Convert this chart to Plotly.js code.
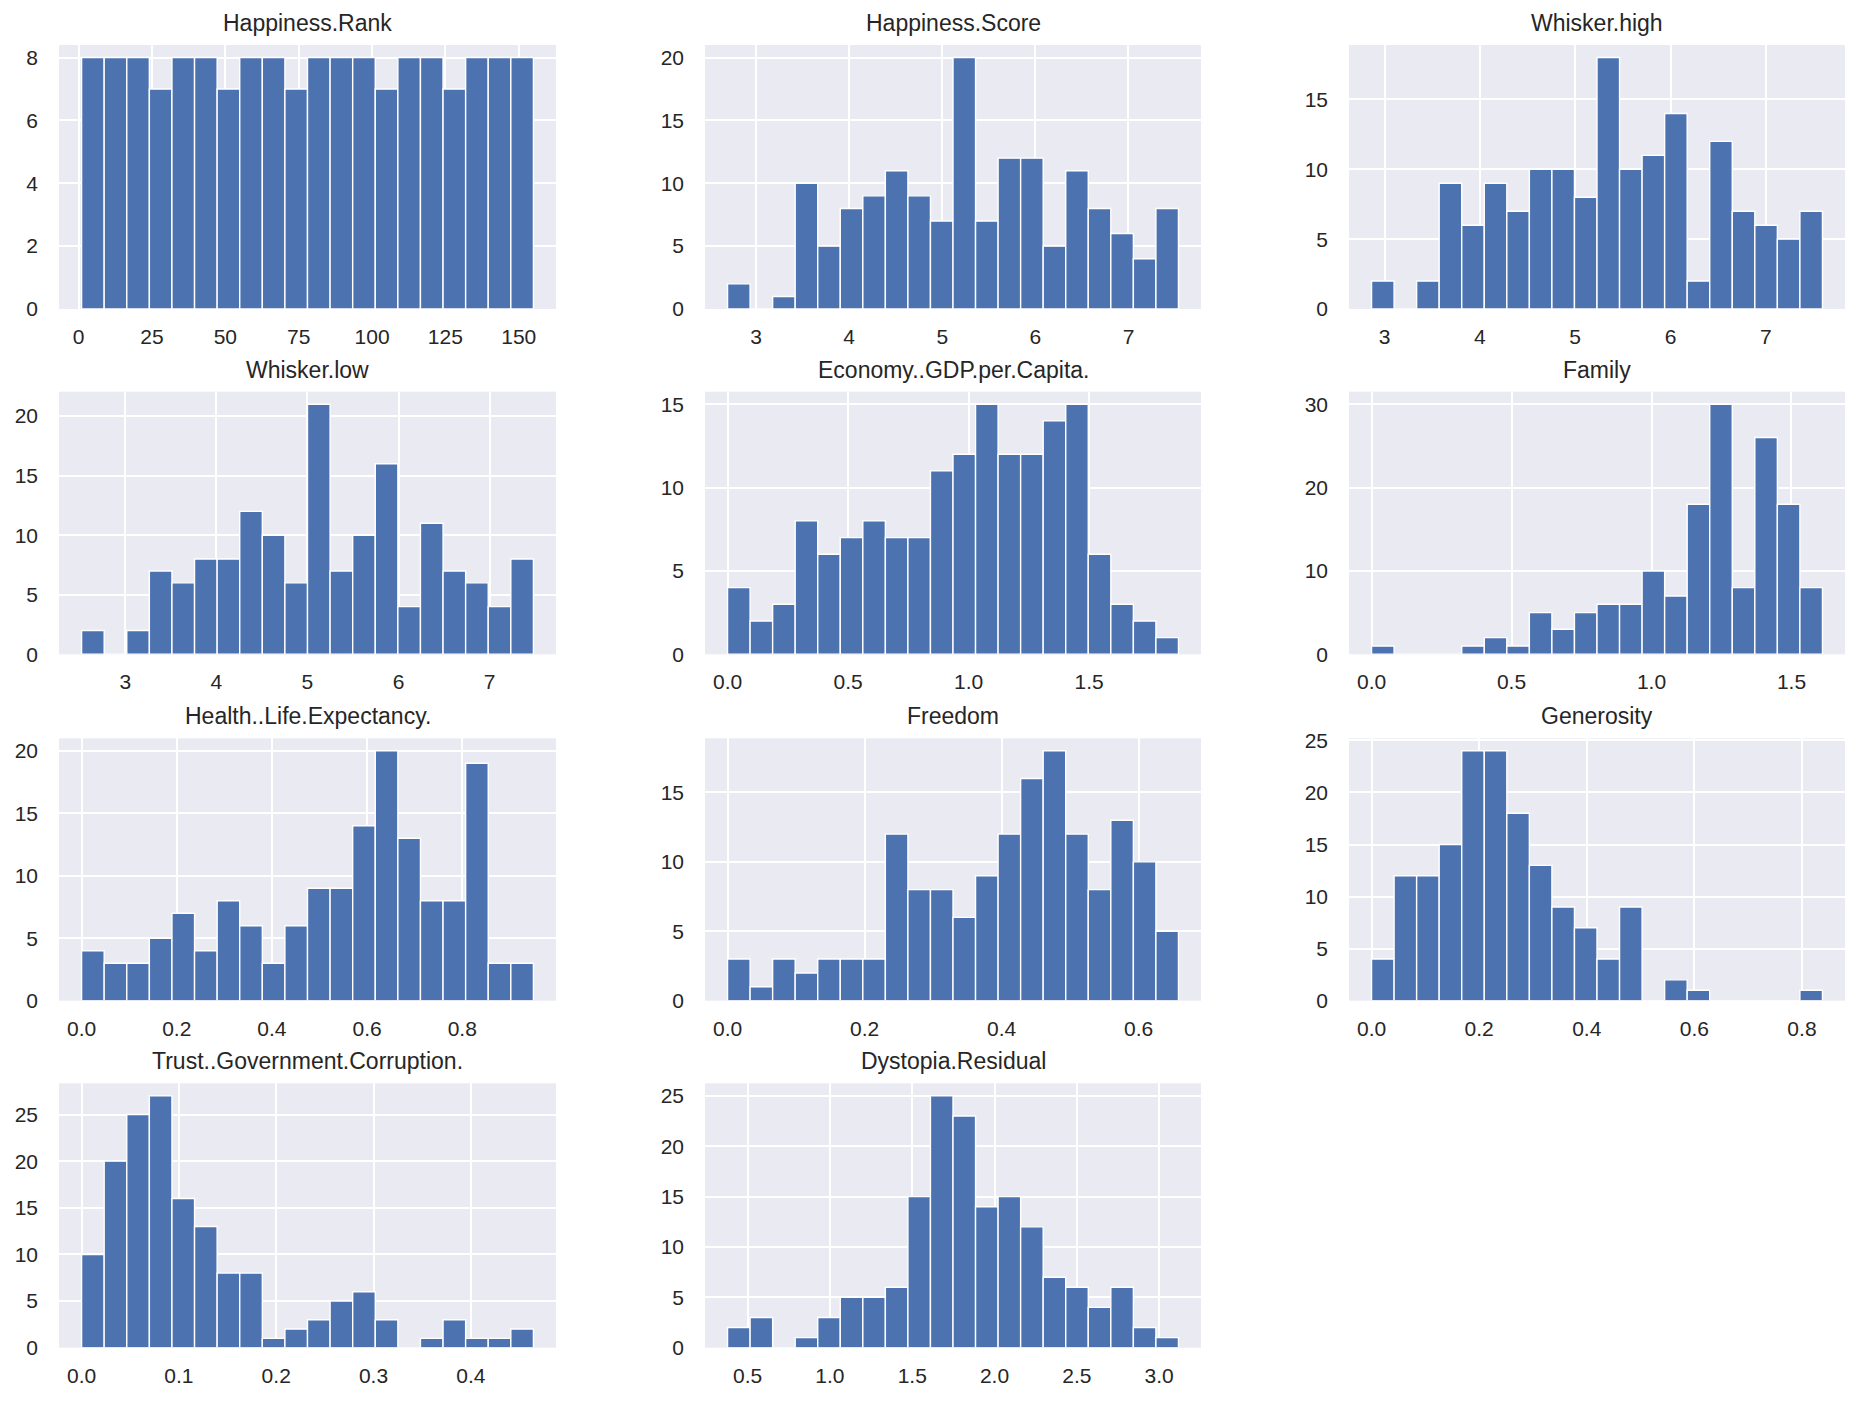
<!DOCTYPE html>
<html><head><meta charset="utf-8">
<script src="https://cdn.plot.ly/plotly-3.0.1.min.js"></script>
<style>html,body{margin:0;padding:0;background:#fff;} #chart{width:1863px;height:1402px;}</style>
</head><body><div id="chart"></div>
<script>
// ---- data (20 bins per variable) ----
const titles = ["Happiness.Rank","Happiness.Score","Whisker.high","Whisker.low",
  "Economy..GDP.per.Capita.","Family","Health..Life.Expectancy.","Freedom",
  "Generosity","Trust..Government.Corruption.","Dystopia.Residual"];
const binMin = [1, 2.693, 2.864, 2.521, 0, 0, 0, 0, 0, 0, 0.3779];
const binMax = [155, 7.537, 7.594, 7.480, 1.8708, 1.6106, 0.9495, 0.6582, 0.8381, 0.4643, 3.1175];

const rankCounts      = [8,8,8,7,8,8,7,8,8,7,8,8,8,7,8,8,7,8,8,8];
const scoreCounts     = [2,0,1,10,5,8,9,11,9,7,20,7,12,12,5,11,8,6,4,8];
const whiskHighCounts = [2,0,2,9,6,9,7,10,10,8,18,10,11,14,2,12,7,6,5,7];
const whiskLowCounts  = [2,0,2,7,6,8,8,12,10,6,21,7,10,16,4,11,7,6,4,8];
const economyCounts   = [4,2,3,8,6,7,8,7,7,11,12,15,12,12,14,15,6,3,2,1];
const familyCounts    = [1,0,0,0,1,2,1,5,3,5,6,6,10,7,18,30,8,26,18,8];
const healthCounts    = [4,3,3,5,7,4,8,6,3,6,9,9,14,20,13,8,8,19,3,3];
const freedomCounts   = [3,1,3,2,3,3,3,12,8,8,6,9,12,16,18,12,8,13,10,5];
const generosityCounts= [4,12,12,15,24,24,18,13,9,7,4,9,0,2,1,0,0,0,0,1];
const trustCounts     = [10,20,25,27,16,13,8,8,1,2,3,5,6,3,0,1,3,1,1,2];
const dystopiaCounts  = [2,3,0,1,3,5,5,6,15,25,23,14,15,12,7,6,4,6,2,1];

const allCounts = [rankCounts, scoreCounts, whiskHighCounts, whiskLowCounts, economyCounts,
  familyCounts, healthCounts, freedomCounts, generosityCounts, trustCounts, dystopiaCounts];

const xTickStep = [25, 1, 1, 1, 0.5, 0.5, 0.2, 0.2, 0.2, 0.1, 0.5];
const xTickFmt  = ['d', 'd', 'd', 'd', '.1f', '.1f', '.1f', '.1f', '.1f', '.1f', '.1f'];
const yTickStep = [2, 5, 5, 5, 5, 10, 5, 5, 5, 5, 5];

// ---- layout geometry (pixels) ----
const W = 1863, H = 1402;
const colPx = [[59,556],[705,1201],[1349,1845]];
const rowPx = [[45,309],[391.7,654.3],[738.3,1000.7],[1083.3,1347.7]];

const FONT = 'Liberation Sans, Arial, sans-serif';
const TXT = '#262626';
const traces = [];
const layout = {
  width: W, height: H,
  margin: {l:0, r:0, t:0, b:0},
  paper_bgcolor: '#ffffff',
  plot_bgcolor: '#EAEAF2',
  showlegend: false,
  bargap: 0,
  font: {family: FONT, color: TXT, size: 21},
  annotations: []
};

allCounts.forEach((counts, i) => {
  const n = counts.length;
  const lo = binMin[i], hi = binMax[i];
  const w = (hi - lo) / n;
  const xs = counts.map((_, k) => lo + (k + 0.5) * w);
  const id = i === 0 ? '' : String(i + 1);
  traces.push({
    type: 'bar', x: xs, y: counts, width: w,
    xaxis: 'x' + id, yaxis: 'y' + id,
    marker: {color: '#4C72B0', line: {color: '#ffffff', width: 1.4}},
    hovertemplate: '%{x}: %{y}<extra></extra>'
  });
  const r = Math.floor(i / 3), c = i % 3;
  const span = hi - lo;
  const ymax = Math.max(...counts) * 1.05;
  layout['xaxis' + id] = {
    domain: [colPx[c][0] / W, colPx[c][1] / W],
    anchor: 'y' + id,
    range: [lo - 0.05 * span, hi + 0.05 * span],
    tick0: 0, dtick: xTickStep[i], tickformat: xTickFmt[i],
    showgrid: true, gridcolor: '#ffffff', gridwidth: 2,
    zeroline: false, showline: false, ticks: '',
    ticklabelstandoff: 13,
    tickfont: {family: FONT, size: 21, color: TXT}
  };
  layout['yaxis' + id] = {
    domain: [1 - rowPx[r][1] / H, 1 - rowPx[r][0] / H],
    anchor: 'x' + id,
    range: [0, ymax],
    tick0: 0, dtick: yTickStep[i], tickformat: 'd',
    showgrid: true, gridcolor: '#ffffff', gridwidth: 2,
    zeroline: false, showline: false, ticks: '',
    ticklabelstandoff: 20,
    tickfont: {family: FONT, size: 21, color: TXT}
  };
  layout.annotations.push({
    text: titles[i], xref: 'paper', yref: 'paper',
    x: (colPx[c][0] + colPx[c][1]) / 2 / W, y: 1 - rowPx[r][0] / H,
    xanchor: 'center', yanchor: 'bottom', yshift: 7, showarrow: false,
    font: {family: FONT, size: 23, color: TXT}
  });
});

Plotly.newPlot('chart', traces, layout, {displayModeBar: false, staticPlot: true});
</script>
</body></html>
